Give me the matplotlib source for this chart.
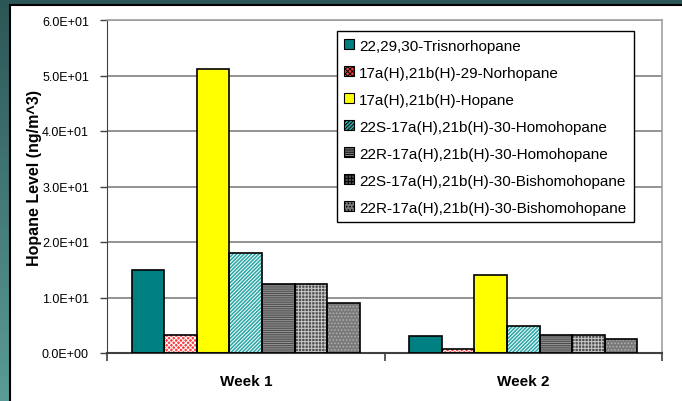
import numpy as np
import matplotlib.pyplot as plt
from matplotlib.patches import Rectangle
from matplotlib.colors import LinearSegmentedColormap

plt.rcParams['font.family'] = ['Liberation Sans', 'DejaVu Sans']
plt.rcParams['hatch.linewidth'] = 0.7

weeks = ['Week 1', 'Week 2']
compounds = [
    '22,29,30-Trisnorhopane',
    '17a(H),21b(H)-29-Norhopane',
    '17a(H),21b(H)-Hopane',
    '22S-17a(H),21b(H)-30-Homohopane',
    '22R-17a(H),21b(H)-30-Homohopane',
    '22S-17a(H),21b(H)-30-Bishomohopane',
    '22R-17a(H),21b(H)-30-Bishomohopane',
]
week1 = [15.0, 3.2, 51.1, 18.1, 12.5, 12.5, 9.0]
week2 = [3.1, 0.7, 14.1, 4.9, 3.3, 3.3, 2.5]

# fill colour, hatch, hatch colour per compound
styles = [
    ('#008080', None, None),
    ('#FF4040', 'xxxxxxx', 'white'),
    ('#FFFF00', None, None),
    ('#30A8A8', '/////////', 'white'),
    ('#9A9A9A', '---------', '#4A4A4A'),
    ('#505050', '+++++', '#C8C8C8'),
    ('#7A7A7A', '.....', '#B0B0B0'),
]

fig = plt.figure(figsize=(6.82, 4.02), dpi=100)

# teal slide background with a white panel on top
bg = fig.add_axes([0, 0, 1, 1], zorder=-10)
grad = np.linspace(0, 1, 256).reshape(-1, 1)
cmap = LinearSegmentedColormap.from_list('slide', ['#2C5656', '#5A9C98'])
bg.imshow(grad, aspect='auto', cmap=cmap, extent=[0, 1, 0, 1], origin='upper')
bg.add_patch(Rectangle((10 / 682, -0.1), 1.2, 1 - 6 / 402 + 0.1,
                       facecolor='white', edgecolor='black', linewidth=1.5))
bg.set_xlim(0, 1)
bg.set_ylim(0, 1)
bg.axis('off')

ax = fig.add_axes([107 / 682, 1 - 354 / 402, 555 / 682, 333 / 402])
ax.set_facecolor('none')

x = np.arange(len(weeks))
n = len(compounds)
width = 0.82 / n
values = np.array([week1, week2])

handles = []
for i, (name, (fc, hatch, hc)) in enumerate(zip(compounds, styles)):
    pos = x - 0.41 + width * (i + 0.5)
    vals = values[:, i]
    if hatch:
        ax.bar(pos, vals, width, color=fc, hatch=hatch, edgecolor=hc,
               linewidth=0, zorder=2)
    else:
        ax.bar(pos, vals, width, color=fc, linewidth=0, zorder=2)
    ax.bar(pos, vals, width, fill=False, edgecolor='black', linewidth=1.2, zorder=3)
    # legend proxy
    h = Rectangle((0, 0), 1, 1, facecolor=fc, hatch=hatch,
                  edgecolor=hc if hc else 'black', linewidth=0)
    handles.append(h)

ax.set_xlim(-0.5, 1.5)
ax.set_ylim(0, 60)
ax.set_yticks(np.arange(0, 61, 10))
ax.set_yticklabels(['%.1fE+%02d' % (v / 10 if v else 0, 1 if v else 0)
                    for v in np.arange(0, 61, 10)], fontsize=9)
ax.yaxis.grid(True, color='#808080', linewidth=1.2)
ax.set_axisbelow(True)

ax.set_xticks(x)
ax.set_xticklabels(weeks, fontsize=11, fontweight='bold')
ax.tick_params(axis='x', length=0, pad=15)
ax.set_xticks([-0.5, 0.5, 1.5], minor=True)
ax.tick_params(axis='x', which='minor', length=6, width=1.2, color='#404040')
ax.tick_params(axis='y', length=5, width=1, color='#404040', pad=8)

for side in ['top', 'right']:
    ax.spines[side].set_color('#A0A0A0')
    ax.spines[side].set_linewidth(1.2)
ax.spines['left'].set_color('#404040')
ax.spines['bottom'].set_color('#404040')
ax.spines['bottom'].set_linewidth(1.5)

ax.set_ylabel('Hopane Level (ng/m^3)', fontsize=11.5, fontweight='bold')
ax.yaxis.set_label_coords(-0.117, 0.53)

leg = ax.legend(handles, compounds, loc='upper left', bbox_to_anchor=(0.414, 0.967),
                borderaxespad=0, fontsize=11, fancybox=False, framealpha=1,
                edgecolor='black', handlelength=0.65, handleheight=0.65,
                handletextpad=0.3, labelspacing=0.85, borderpad=0.5)
leg.get_frame().set_linewidth(1.0)
for h in leg.legend_handles:
    h.set_edgecolor('black')
    h.set_linewidth(0.8)

fig.savefig('out.png', dpi=100)
